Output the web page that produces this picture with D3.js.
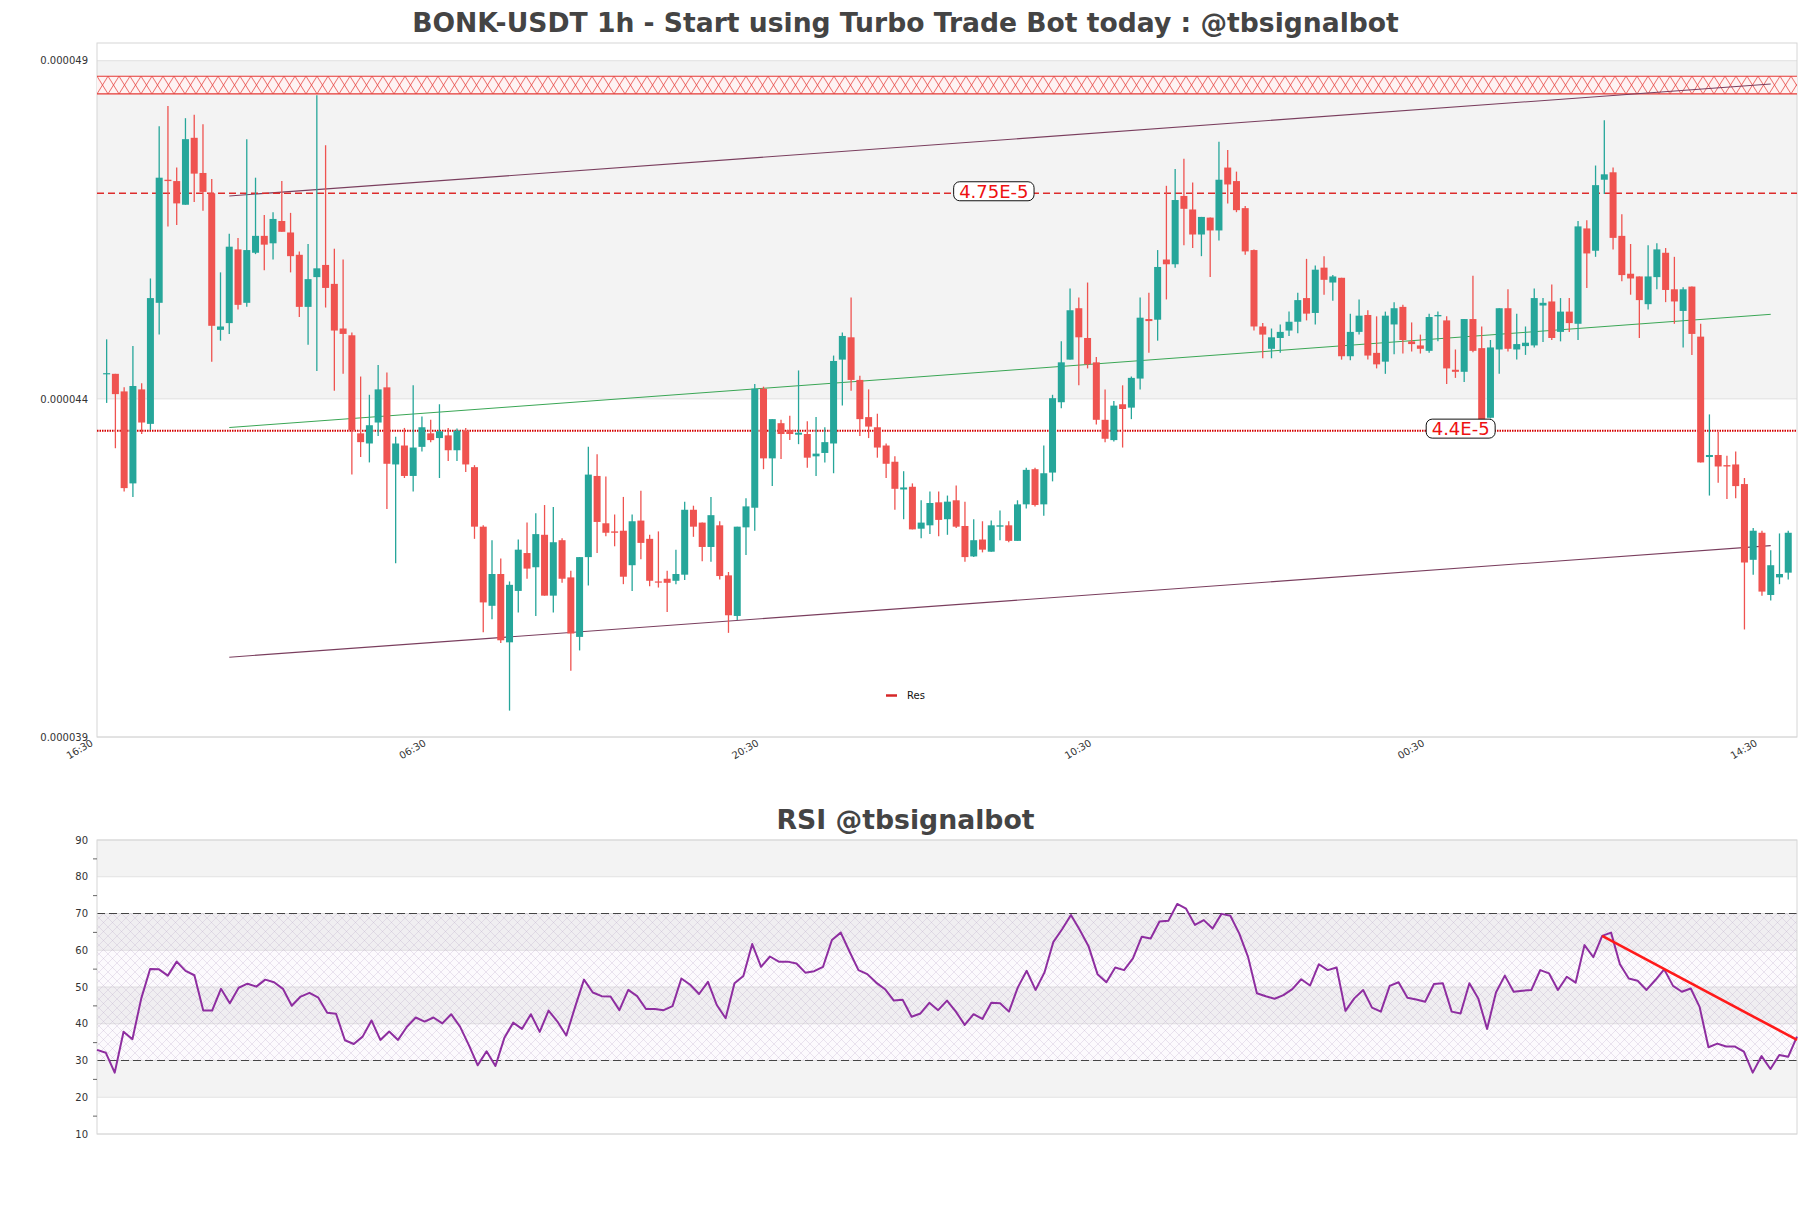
<!DOCTYPE html>
<html><head><meta charset="utf-8">
<script src="https://cdn.jsdelivr.net/npm/d3@7"></script>
<style>body{margin:0;background:#fff}svg{display:block;font-family:"DejaVu Sans",sans-serif}</style>
</head><body><svg id="c" width="1811" height="1208"></svg>
<script>
// ---------- DATA (prices in 1e-6 USDT) ----------
const open = [44.37,44.37,44.11,42.75,44.14,43.63,45.42,47.24,47.22,46.87,
47.86,47.34,47.04,45.02,45.12,46.21,45.42,46.16,46.41,46.30,
46.63,46.46,46.13,45.36,45.80,45.98,45.70,45.04,44.94,43.49,
43.34,43.65,44.17,43.03,43.31,42.86,43.29,43.49,43.42,43.46,
43.24,43.53,42.99,42.11,40.94,41.41,40.40,41.16,41.72,41.51,
41.99,41.09,41.91,41.36,40.48,41.66,42.86,42.16,42.04,42.05,
41.54,42.20,41.93,41.30,41.34,41.31,41.40,42.36,42.17,41.81,
42.13,41.39,40.79,42.10,42.39,44.15,43.12,43.64,43.54,43.47,
43.48,43.15,43.20,43.34,44.58,44.91,44.28,43.73,43.58,43.31,
43.07,42.66,42.70,42.08,42.13,42.47,42.22,42.50,42.12,41.67,
41.92,41.74,42.11,42.13,41.90,42.44,42.96,42.44,42.91,43.95,
44.58,45.34,44.90,44.54,43.69,43.39,43.92,43.87,44.30,45.18,
45.17,46.06,45.99,47.00,46.80,46.43,46.68,46.49,47.42,47.22,
46.82,46.20,45.07,44.74,44.90,45.01,45.14,45.49,45.27,45.94,
45.72,45.79,44.63,44.99,45.24,44.68,44.55,45.10,45.36,44.85,
44.79,44.71,45.22,45.16,44.43,44.40,45.18,44.75,43.72,44.73,
45.34,44.73,44.78,44.79,45.38,45.44,44.99,45.29,45.11,46.52,
46.19,47.24,47.35,46.41,45.85,45.81,45.40,45.80,46.16,45.62,
45.30,45.66,44.92,43.14,43.17,43.02,43.03,42.74,41.62,42.02,
41.10,41.36,41.43];
const high = [44.88,44.37,44.17,44.78,44.23,45.78,48.03,48.33,47.42,48.15,
48.20,48.06,47.25,45.87,46.44,46.38,47.84,47.27,46.72,46.76,
47.22,46.75,46.18,46.29,48.49,47.75,46.22,46.06,44.98,44.33,
44.06,44.50,44.39,43.44,43.57,44.20,43.74,43.69,43.92,43.57,
43.56,43.57,43.02,42.13,41.91,41.64,41.30,41.92,42.17,42.31,
42.43,42.40,41.94,41.46,41.66,43.29,43.18,42.85,42.29,42.55,
42.29,42.64,41.99,42.04,41.46,41.77,42.48,42.42,42.17,42.55,
42.19,41.44,42.11,42.53,44.22,44.18,43.70,43.69,43.75,44.42,
43.67,43.73,43.58,44.64,44.98,45.50,44.34,44.14,43.78,43.34,
43.15,42.93,42.75,42.50,42.63,42.63,42.57,42.72,42.48,42.22,
42.19,42.20,42.35,42.19,42.50,42.98,42.98,43.31,44.06,44.85,
45.63,45.50,45.72,44.62,44.14,43.97,44.20,44.33,45.50,45.57,
46.20,47.15,47.40,47.55,47.20,46.69,46.68,47.80,47.68,47.36,
46.85,46.21,45.12,45.04,45.10,45.29,45.57,46.07,45.97,46.11,
45.83,45.79,45.26,45.47,45.31,45.22,45.29,45.43,45.39,45.13,
44.95,45.26,45.29,45.22,44.73,45.18,45.82,45.07,44.87,45.34,
45.62,45.26,45.07,45.63,45.49,45.69,45.49,45.49,46.63,46.64,
47.45,48.12,47.42,46.73,46.29,45.81,46.27,46.30,46.23,46.10,
45.65,45.66,45.11,43.77,43.51,43.16,43.22,42.83,42.09,42.05,
41.76,42.01,42.05];
const low = [43.94,43.27,42.63,42.55,43.48,43.54,44.95,46.55,46.57,46.87,
46.91,46.78,44.55,44.86,44.96,45.32,45.36,46.14,45.90,46.06,
46.47,45.87,45.21,44.80,44.41,45.35,44.12,44.37,42.88,43.14,
43.06,43.45,42.37,41.57,42.83,42.63,43.22,43.36,42.83,43.08,
43.08,42.92,41.93,40.55,40.74,40.39,39.39,40.84,41.34,40.79,
41.09,40.84,41.28,39.98,40.28,41.24,41.72,41.97,41.82,41.26,
41.16,41.63,41.23,41.21,40.85,41.26,41.32,41.96,41.60,41.59,
41.33,40.54,40.73,41.69,42.05,42.96,42.71,43.11,43.39,43.33,
42.98,42.86,43.06,42.90,43.90,44.12,43.45,43.42,43.13,42.83,
42.36,42.22,42.07,41.94,42.00,41.97,41.99,42.09,41.59,41.66,
41.73,41.74,41.91,41.88,41.90,42.38,42.41,42.27,42.78,43.86,
44.58,44.20,44.45,43.62,43.36,43.37,43.28,43.70,44.14,44.68,
44.86,45.47,45.94,46.27,46.23,46.11,45.80,46.34,46.89,46.76,
46.13,45.01,44.60,44.60,44.68,44.93,44.97,45.16,45.10,45.54,
45.45,44.58,44.57,44.95,44.58,44.45,44.37,44.66,44.67,44.70,
44.67,44.68,44.85,44.22,44.31,44.25,44.69,43.69,43.71,44.37,
44.70,44.58,44.65,44.76,44.84,44.87,44.85,44.99,44.87,45.64,
46.10,47.03,46.21,45.74,45.54,44.90,45.32,45.62,45.43,45.11,
44.76,44.65,43.06,42.57,42.76,42.52,42.53,40.59,41.40,41.09,
41.02,41.26,41.33];
const close = [44.38,44.07,42.68,44.19,43.65,45.49,47.27,47.22,46.89,47.84,
47.33,47.06,45.08,45.07,46.25,45.39,46.20,46.41,46.28,46.66,
46.47,46.11,45.36,45.77,45.93,45.64,45.01,44.96,43.54,43.36,
43.61,44.14,43.04,43.34,42.86,43.28,43.58,43.39,43.52,43.24,
43.53,43.03,42.11,40.99,41.41,40.43,41.25,41.77,41.49,42.00,
41.09,41.88,41.34,40.53,41.66,42.88,42.18,42.02,42.02,41.37,
42.19,41.87,41.31,41.29,41.28,41.41,42.36,42.11,41.81,42.28,
41.38,40.80,42.11,42.41,44.15,43.12,43.70,43.48,43.48,43.50,
43.13,43.19,43.36,44.56,44.93,44.28,43.70,43.59,43.28,43.04,
42.67,42.69,42.07,42.17,42.46,42.21,42.48,42.11,41.66,41.91,
41.77,42.13,42.13,41.90,42.44,42.95,42.43,42.90,44.01,44.54,
45.31,44.91,44.51,43.69,43.41,43.90,43.85,44.31,45.20,45.15,
45.95,45.99,46.94,46.81,46.43,46.69,46.49,47.24,47.17,46.79,
46.18,45.07,44.95,44.91,44.99,45.14,45.46,45.26,45.91,45.76,
45.81,44.63,44.99,45.23,44.64,44.51,45.23,45.34,44.87,44.81,
44.74,45.21,45.24,44.45,44.40,45.18,44.71,43.69,44.76,45.34,
44.74,44.81,44.83,45.49,45.42,44.90,45.29,45.12,46.55,46.15,
47.16,47.32,46.38,45.83,45.78,45.46,45.81,46.21,45.61,45.44,
45.62,44.96,43.06,43.17,43.00,43.00,42.71,41.58,42.05,41.15,
41.54,41.41,42.02];
const rsi = [32.9,32.1,26.7,37.8,35.8,46.9,54.9,54.8,53.1,56.9,
54.4,53.2,43.6,43.6,49.5,45.6,49.8,50.9,50.1,52.0,
51.3,49.5,44.9,47.4,48.4,47.1,43.0,42.7,35.5,34.5,
36.5,40.9,35.6,37.9,35.6,39.2,41.7,40.6,41.7,40.1,
42.6,39.2,34.2,28.7,32.5,28.5,36.1,40.3,38.6,42.6,
37.8,43.6,40.6,36.8,44.6,52.0,48.5,47.5,47.4,43.7,
49.2,47.5,44.0,44.0,43.7,44.8,52.3,50.6,48.1,51.4,
45.1,41.5,51.0,53.0,61.7,55.5,58.3,56.9,56.9,56.4,
53.9,54.3,55.5,62.8,64.8,59.6,54.6,53.5,51.2,49.4,
46.3,46.5,41.9,42.8,45.7,43.7,46.3,43.3,39.7,42.6,
41.3,45.7,45.6,43.3,49.9,54.4,49.2,53.9,62.2,65.7,
69.6,65.5,61.0,53.5,51.3,55.3,54.6,57.8,63.7,63.2,
67.8,68.0,72.6,71.3,66.9,68.2,65.9,69.9,69.4,64.6,
58.2,48.3,47.5,46.8,47.8,49.4,52.1,50.4,56.2,54.6,
55.3,43.5,46.9,49.2,44.4,43.3,50.3,51.3,47.1,46.6,
46.0,50.8,51.0,43.3,42.8,51.0,46.9,38.6,48.5,53.1,
48.7,49.0,49.2,54.6,53.7,49.2,52.8,51.2,61.4,58.1,
63.9,64.8,56.2,52.3,51.7,49.2,51.9,54.8,50.3,48.7,
49.6,44.6,33.6,34.6,33.8,33.8,32.4,26.7,31.2,27.7,
31.5,31.0,36.5];
// hour offsets of each candle from the first axis tick (16:30)
const candleHour = open.map((_, i) => i + 1);
const tickHours = [0, 38, 76, 114, 152, 190];
const tickLabels = ["16:30", "06:30", "20:30", "10:30", "00:30", "14:30"];
const priceTicks = [39, 44, 49];
const rsiTicks = [10, 20, 30, 40, 50, 60, 70, 80, 90];
// channel lines: [hour, price]
const channelUpper = [[15, 47.00], [191, 48.655]];
const channelMid = [[15, 43.576], [191, 45.25]];
const channelLower = [[15, 40.18], [191, 41.83]];
const resLevels = [47.04, 43.53];
const resLabels = ["4.75E-5", "4.4E-5"];
const resZone = [48.51, 48.77];
const rsiTrend = [[171, 63.9], [193, 35.6]];

// ---------- SCALES ----------
const W = 1811;
const L = 97, R = 1797;
const mainTop = 43, mainBot = 737;
const rsiTop = 840, rsiBot = 1134;
const x = d3.scaleLinear().domain([-0.1, 194]).range([L, R]);
const y = d3.scaleLinear().domain([39, 49]).range([737, 60.7]);
const xr = d3.scaleLinear().domain([1, 193]).range([L, R]);
const yr = d3.scaleLinear().domain([10, 90]).range([rsiBot, rsiTop]);
const GREEN = "#26a69a", RED = "#ef5350";

const svg = d3.select("#c");
svg.append("rect").attr("width", W).attr("height", 1208).attr("fill", "#fff");
const defs = svg.append("defs");
const zTop = y(resZone[1]), zH = y(resZone[0]) - y(resZone[1]);
const zp = defs.append("pattern").attr("id", "zoneHatch").attr("patternUnits", "userSpaceOnUse")
  .attr("x", L).attr("y", zTop).attr("width", 11).attr("height", zH);
zp.append("rect").attr("width", 11).attr("height", zH).attr("fill", "#fef3f3");
zp.append("path").attr("d", `M0,0L11,${zH}M11,0L0,${zH}`).attr("stroke", "#e53935").attr("stroke-width", 0.75).attr("fill", "none");
const rp = defs.append("pattern").attr("id", "rsiHatch").attr("patternUnits", "userSpaceOnUse")
  .attr("width", 9).attr("height", 9);
rp.append("path").attr("d", "M0,0L9,9M9,0L0,9M-1,8L1,10M8,-1L10,1").attr("stroke", "#b7a3c3").attr("stroke-width", 0.5).attr("opacity", 0.55).attr("fill", "none");

// ---------- TITLES ----------
svg.append("text").attr("x", W / 2).attr("y", 32).attr("text-anchor", "middle")
  .attr("font-size", 26.6).attr("font-weight", "bold").attr("fill", "#444")
  .text("BONK-USDT 1h - Start using Turbo Trade Bot today : @tbsignalbot");
svg.append("text").attr("x", W / 2).attr("y", 829).attr("text-anchor", "middle")
  .attr("font-size", 26.7).attr("font-weight", "bold").attr("fill", "#444")
  .text("RSI @tbsignalbot");

// ---------- MAIN CHART ----------
const g = svg.append("g");
g.append("rect").attr("x", L).attr("y", y(49)).attr("width", R - L).attr("height", y(44) - y(49)).attr("fill", "#f3f3f3");
g.selectAll(".grid").data(priceTicks).enter().append("line")
  .attr("x1", L).attr("x2", R).attr("y1", d => y(d)).attr("y2", d => y(d)).attr("stroke", "#e0e0e0");
g.append("rect").attr("x", L).attr("y", mainTop).attr("width", R - L).attr("height", mainBot - mainTop)
  .attr("fill", "none").attr("stroke", "#d6d6d6");

// y axis
const ya = g.append("g").attr("transform", `translate(${L},0)`)
  .call(d3.axisLeft(y).tickValues(priceTicks).tickSize(0).tickPadding(9).tickFormat(d => (d * 1e-6).toFixed(6)));
ya.select(".domain").remove();
ya.selectAll("text").attr("font-size", 10).attr("fill", "#333").attr("font-family", "DejaVu Sans");

// x axis
const xa = g.append("g").attr("transform", `translate(0,${mainBot})`)
  .call(d3.axisBottom(x).tickValues(tickHours).tickSize(0).tickFormat((d, i) => tickLabels[i]));
xa.select(".domain").remove();
xa.selectAll("text").attr("x", 0).attr("y", 0).attr("dy", 0)
  .attr("transform", "translate(-4.5,8) rotate(-30)").style("text-anchor", "end")
  .attr("font-size", 10).attr("fill", "#333").attr("font-family", "DejaVu Sans");

// resistance zone
g.append("rect").attr("x", L).attr("y", zTop).attr("width", R - L).attr("height", zH).attr("fill", "url(#zoneHatch)");
g.selectAll(".zb").data(resZone).enter().append("line")
  .attr("x1", L).attr("x2", R).attr("y1", d => y(d)).attr("y2", d => y(d)).attr("stroke", "#e53935").attr("stroke-width", 1.1);

// channel
const line = d3.line().x(d => x(d[0])).y(d => y(d[1]));
g.append("path").attr("d", line(channelUpper)).attr("stroke", "#7a3e5e").attr("stroke-width", 1.1).attr("fill", "none");
g.append("path").attr("d", line(channelLower)).attr("stroke", "#7a3e5e").attr("stroke-width", 1.1).attr("fill", "none");
g.append("path").attr("d", line(channelMid)).attr("stroke", "#3aa655").attr("stroke-width", 1).attr("fill", "none");

// resistance lines
g.append("line").attr("x1", L).attr("x2", R).attr("y1", y(resLevels[0])).attr("y2", y(resLevels[0]))
  .attr("stroke", "#dd2c2c").attr("stroke-width", 1.3).attr("stroke-dasharray", "7,4");
g.append("line").attr("x1", L).attr("x2", R).attr("y1", y(resLevels[1])).attr("y2", y(resLevels[1]))
  .attr("stroke", "#d50000").attr("stroke-width", 2).attr("stroke-dasharray", "1.5,1");

// candles
const idx = d3.range(open.length);
const bw = 7;
g.selectAll(".wick").data(idx).enter().append("line")
  .attr("x1", i => x(candleHour[i])).attr("x2", i => x(candleHour[i]))
  .attr("y1", i => y(high[i])).attr("y2", i => y(low[i]))
  .attr("stroke", i => close[i] >= open[i] ? GREEN : RED).attr("stroke-width", 1.3);
g.selectAll(".body").data(idx).enter().append("rect")
  .attr("x", i => x(candleHour[i]) - bw / 2).attr("width", bw)
  .attr("y", i => y(Math.max(open[i], close[i])))
  .attr("height", i => Math.max(1.2, Math.abs(y(open[i]) - y(close[i]))))
  .attr("fill", i => close[i] >= open[i] ? GREEN : RED);

// resistance labels
const labelHours = [102.3, 155.6];
resLevels.forEach((lv, k) => {
  const cx = x(labelHours[k]), cy = y(lv) - 2;
  const t = g.append("text").attr("x", cx).attr("y", cy).attr("text-anchor", "middle")
    .attr("dominant-baseline", "central").attr("font-size", 18).attr("fill", "#ee1111").text(resLabels[k]);
  const w = t.node().getComputedTextLength() + 11;
  g.insert("rect", () => t.node()).attr("x", cx - w / 2).attr("y", cy - 9.5).attr("width", w).attr("height", 19)
    .attr("rx", 6).attr("fill", "#fff").attr("stroke", "#111").attr("stroke-width", 1);
});

// legend
g.append("line").attr("x1", 886).attr("x2", 897).attr("y1", 695.5).attr("y2", 695.5).attr("stroke", "#d62728").attr("stroke-width", 2.5);
g.append("text").attr("x", 907).attr("y", 699).attr("font-size", 10).attr("fill", "#111").text("Res");

// ---------- RSI CHART ----------
const r = svg.append("g");
[[80, 90], [60, 70], [40, 50], [20, 30]].forEach(b => {
  r.append("rect").attr("x", L).attr("y", yr(b[1])).attr("width", R - L).attr("height", yr(b[0]) - yr(b[1])).attr("fill", "#f3f3f3");
});
r.selectAll(".rg").data(rsiTicks).enter().append("line")
  .attr("x1", L).attr("x2", R).attr("y1", d => yr(d)).attr("y2", d => yr(d)).attr("stroke", "#e2e2e2");
r.append("rect").attr("x", L).attr("y", yr(70)).attr("width", R - L).attr("height", yr(30) - yr(70)).attr("fill", "rgba(142,46,160,0.025)");
r.append("rect").attr("x", L).attr("y", yr(70)).attr("width", R - L).attr("height", yr(30) - yr(70)).attr("fill", "url(#rsiHatch)");
[70, 30].forEach(v => {
  r.append("line").attr("x1", L).attr("x2", R).attr("y1", yr(v)).attr("y2", yr(v))
    .attr("stroke", "#444").attr("stroke-width", 1.1).attr("stroke-dasharray", "8,4");
});
r.append("rect").attr("x", L).attr("y", rsiTop).attr("width", R - L).attr("height", rsiBot - rsiTop)
  .attr("fill", "none").attr("stroke", "#d6d6d6");
const ra = r.append("g").attr("transform", `translate(${L},0)`)
  .call(d3.axisLeft(yr).tickValues(rsiTicks).tickSize(0).tickPadding(9));
ra.select(".domain").remove();
ra.selectAll("text").attr("font-size", 10).attr("fill", "#333").attr("font-family", "DejaVu Sans");
const rm = r.append("g").attr("transform", `translate(${L},0)`)
  .call(d3.axisLeft(yr).tickValues([15, 25, 35, 45, 55, 65, 75, 85]).tickSize(4).tickFormat(""));
rm.select(".domain").remove();
rm.selectAll("line").attr("stroke", "#666");

const rl = d3.line().x((d, i) => xr(candleHour[i])).y(d => yr(d));
r.append("path").attr("d", rl(rsi)).attr("fill", "none").attr("stroke", "#8e2ea0").attr("stroke-width", 2).attr("stroke-linejoin", "round");
const tl = d3.line().x(d => xr(d[0])).y(d => yr(d[1]));
r.append("path").attr("d", tl(rsiTrend)).attr("fill", "none").attr("stroke", "#ff1a1a").attr("stroke-width", 2.6);
</script></body></html>
